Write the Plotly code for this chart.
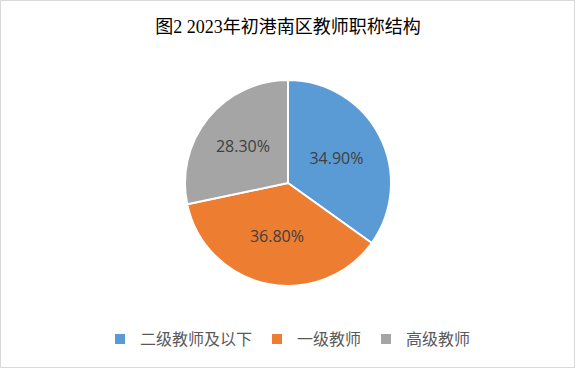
import plotly.graph_objects as go

categories = ["二级教师及以下", "一级教师", "高级教师"]
values = [34.9, 36.8, 28.3]
colors = ["#5B9BD5", "#ED7D31", "#A5A5A5"]
title_text = "图2 2023年初港南区教师职称结构"

W, H = 576, 369
ml, mr, mt, mb = 0, 0, 80, 83
ph = H - mt - mb

fig = go.Figure(go.Pie(
    labels=categories,
    values=values,
    sort=False,
    direction="clockwise",
    rotation=0,
    marker=dict(colors=colors, line=dict(color="white", width=2)),
    texttemplate="%{percent:.2%}",
    textposition="inside",
    insidetextorientation="horizontal",
    insidetextfont=dict(color="#404040", size=16, family="Open Sans, Noto Sans, sans-serif"),
    hoverinfo="label+percent",
))

fig.update_layout(
    width=W, height=H,
    margin=dict(l=ml, r=mr, t=mt, b=mb),
    paper_bgcolor="white",
    plot_bgcolor="white",
    title=dict(text=title_text, x=0.5, xanchor="center", y=1 - 27 / H, yanchor="middle",
               font=dict(family="Liberation Serif, Noto Sans CJK SC", size=18, color="#000000")),
    showlegend=True,
    legend=dict(orientation="h", x=0.5, xanchor="center", y=-(339 - (H - mb)) / ph, yanchor="middle",
                font=dict(family="Noto Sans CJK SC", size=16, color="#595959"),
                itemwidth=30, tracegroupgap=0),
    shapes=[dict(type="rect", xref="paper", yref="paper",
                 x0=0.5 / W, x1=(W - 1.5) / W,
                 y0=(H - mb - 367.5) / ph,
                 y1=1 + (mt - 0.5) / ph,
                 line=dict(color="#D9D9D9", width=1), fillcolor="rgba(0,0,0,0)", layer="above")],
)

fig.write_html("out.html", config={"displayModeBar": False},
               post_script="document.body.style.margin='0';document.body.style.overflow='hidden';")
